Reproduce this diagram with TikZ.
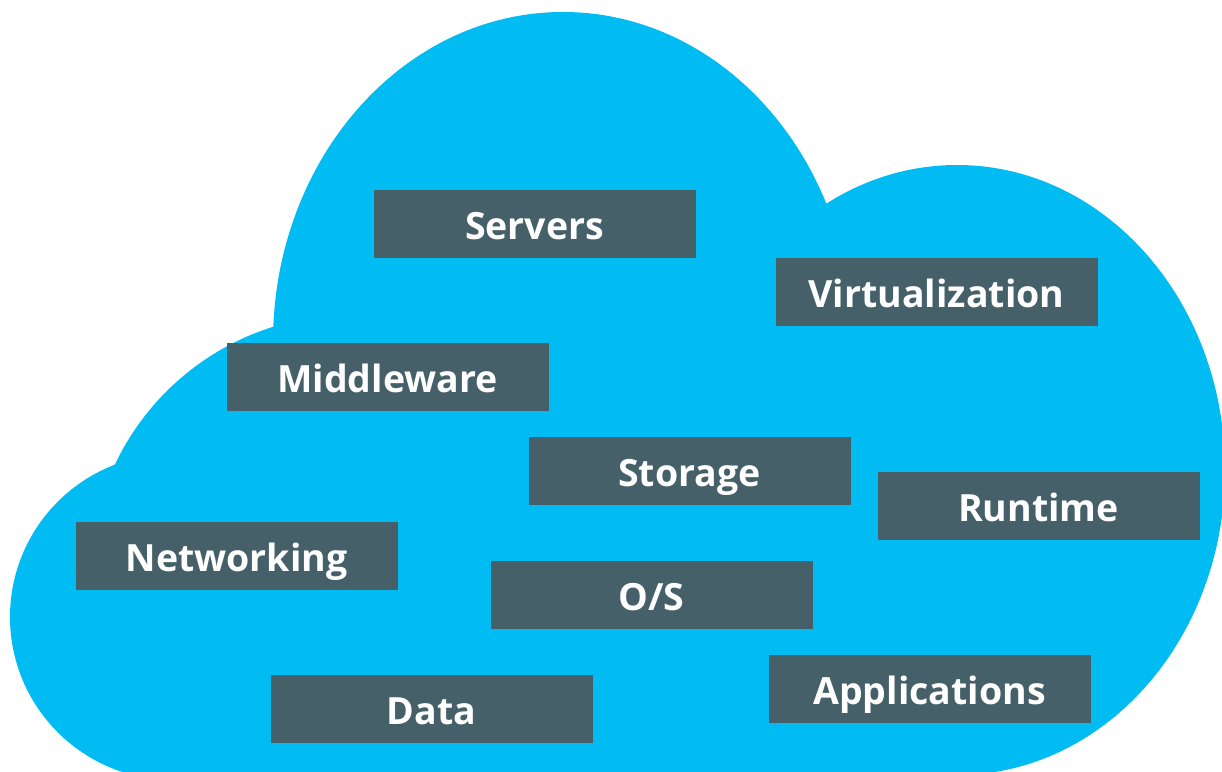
\documentclass[tikz,border=0pt]{standalone}
\usepackage{fontspec}
\setmainfont{Open Sans}
\definecolor{cloudblue}{RGB}{0,188,242}
\definecolor{boxslate}{RGB}{69,96,104}
\begin{document}
\begin{tikzpicture}[x=1pt,y=-1pt,
  item/.style={fill=boxslate, text=white, minimum width=322pt, minimum height=68pt,
    inner sep=0pt, font=\fontsize{37.5}{37.5}\selectfont\bfseries, text height=31pt, text depth=0pt}]
\useasboundingbox (0,0) rectangle (1222,771);
\begin{scope}
  \clip (0,0) rectangle (1222,771);
  \fill[cloudblue] (173,617) circle[radius=163pt];
  \fill[cloudblue] (351,576) circle[radius=261pt];
  \fill[cloudblue] (563,342) ellipse[x radius=290pt, y radius=330pt];
  \fill[cloudblue] (957,470) ellipse[x radius=268pt, y radius=305pt];
  \fill[cloudblue] (173,400) rectangle (957,800);
\end{scope}
\node[item] (servers) at (534.5,224) {Servers};
\node[item] (virt) at (936.5,292) {Virtualization};
\node[item] (middle) at (387.5,377) {Middleware};
\node[item] (storage) at (689.5,471) {Storage};
\node[item] (runtime) at (1038.5,506) {Runtime};
\node[item] (network) at (236.5,556) {Networking};
\node[item] (os) at (651.5,595) {O/S};
\node[item] (apps) at (929.5,689) {Applications};
\node[item] (data) at (431.5,709) {Data};
\end{tikzpicture}
\end{document}
